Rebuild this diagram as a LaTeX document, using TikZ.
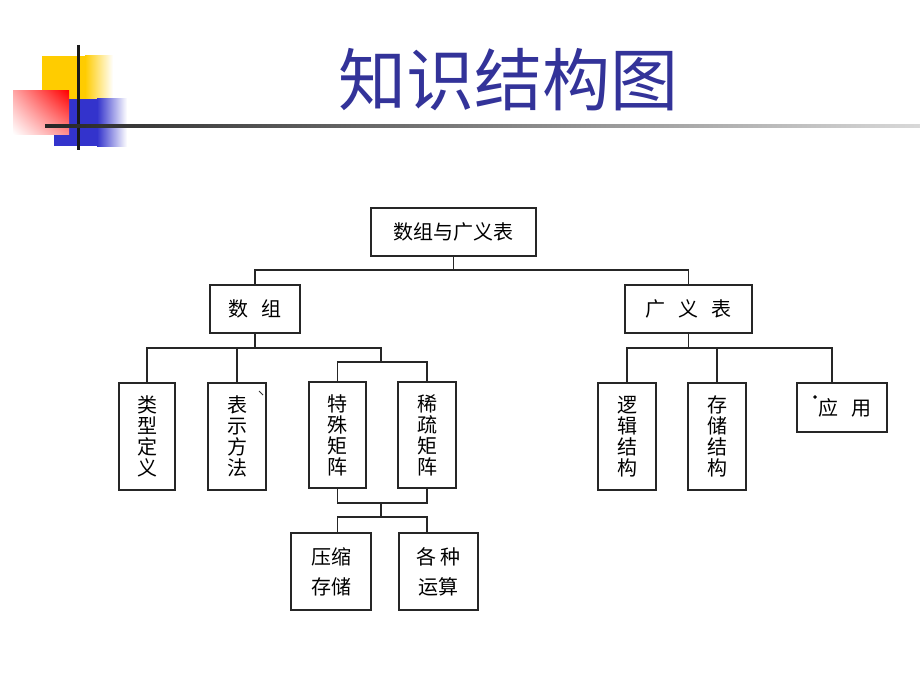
\documentclass[tikz,border=0pt]{standalone}
\usepackage{fontspec}
\usepackage{xcolor}
\usepackage{tikz}
\usetikzlibrary{shadings}
\newfontfamily\cjk{Noto Sans CJK SC}
\definecolor{titleblue}{RGB}{51,51,153}
\definecolor{decoyellow}{RGB}{255,204,0}
\definecolor{decoblue}{RGB}{51,51,204}

\begin{document}
\begin{tikzpicture}[x=1pt,y=-1pt,
		box/.style={draw=black!85, line width=1.6pt, inner sep=0pt, align=center, font=\cjk\fontsize{20}{21}\selectfont},
		link/.style={draw=black!85, line width=1.6pt}]
				\useasboundingbox[fill=white] (0,0) rectangle (920,690);

				\fill[decoyellow] (42,56) rectangle (85,99);
				\shade[left color=decoyellow, right color=white] (85,56) rectangle (113,99);
				\fill[decoblue] (54,99) rectangle (97,146);
				\shade[left color=decoblue, right color=white] (97,99) rectangle (127,146);
				\shade[upper right=red, upper left=red!35, lower right=red!45, lower left=white] (13,91) rectangle (69,134);
				\draw[line width=3pt, black!90] (78,45) -- (78,150);
				\shade[left color=black!85, right color=black!15] (45,124.5) rectangle (920,127.5);

				\node[font=\cjk\fontsize{68}{68}\selectfont, text=titleblue] (title) at (508,80) {知识结构图};

				\node[box, minimum width=165pt, minimum height=48pt] (root) at (453.5,232) {数组与广义表};
				\node[box, minimum width=90pt, minimum height=48pt] (arr) at (255,309) {数\hspace{13pt}组};
				\node[box, minimum width=127pt, minimum height=48pt] (gl) at (688.5,309) {广\hspace{13pt}义\hspace{13pt}表};

				\node[box, minimum width=56pt, minimum height=107pt] (lx) at (147,436.5) {类\\型\\定\\义};
				\node[box, minimum width=58pt, minimum height=107pt] (bs) at (237,436.5) {表\\示\\方\\法};
				\node[box, minimum width=57pt, minimum height=106pt] (ts) at (337.5,435) {特\\殊\\矩\\阵};
				\node[box, minimum width=58pt, minimum height=106pt] (xs) at (427,435) {稀\\疏\\矩\\阵};
				\node[box, minimum width=80pt, minimum height=77pt, font=\cjk\fontsize{20}{30}\selectfont] (ys) at (331,571.5) {压缩\\存储};
				\node[box, minimum width=79pt, minimum height=77pt, font=\cjk\fontsize{20}{30}\selectfont] (gz) at (438.5,571.5) {各\hspace{4pt}种\\运算};

				\node[box, minimum width=58pt, minimum height=107pt] (lj) at (627,436.5) {逻\\辑\\结\\构};
				\node[box, minimum width=58pt, minimum height=107pt] (cc) at (717,436.5) {存\\储\\结\\构};
				\node[box, minimum width=90pt, minimum height=49pt] (yy) at (842,407.5) {\hspace{6pt}应\hspace{13pt}用};
				\filldraw[black] (815,397) circle (1.5pt);
				\draw[black!80, line width=1pt] (259,391) -- (263,395);

				\coordinate (j1) at (453.5,270);
				\coordinate (j2) at (255,348);
				\coordinate (j3) at (381,348);
				\coordinate (j4) at (381,362);
				\coordinate (j5) at (381,503);
				\coordinate (j6) at (381,517);
				\coordinate (j7) at (688.5,348);
				\coordinate (j8) at (832,348);

				\draw[link] (root.south) -- (j1);
				\draw[link] (arr.north) |- (j1) -| (gl.north);
				\draw[link] (arr.south) -- (j2);
				\draw[link] (lx.north) |- (j3) -- (j4);
				\draw[link] (bs.north) -- (bs.north |- j2);
				\draw[link] (ts.north) |- (j4) -| (xs.north);
				\draw[link] (ts.south) |- (j5) -| (xs.south);
				\draw[link] (j5) -- (j6);
				\draw[link] (ts.south |- ys.north) |- (j6) -| (xs.south |- gz.north);
				\draw[link] (gl.south) -- (j7);
				\draw[link] (lj.north) |- (j8) -- (j8 |- yy.north);
				\draw[link] (cc.north) -- (cc.north |- j7);
			\end{tikzpicture}
\end{document}
